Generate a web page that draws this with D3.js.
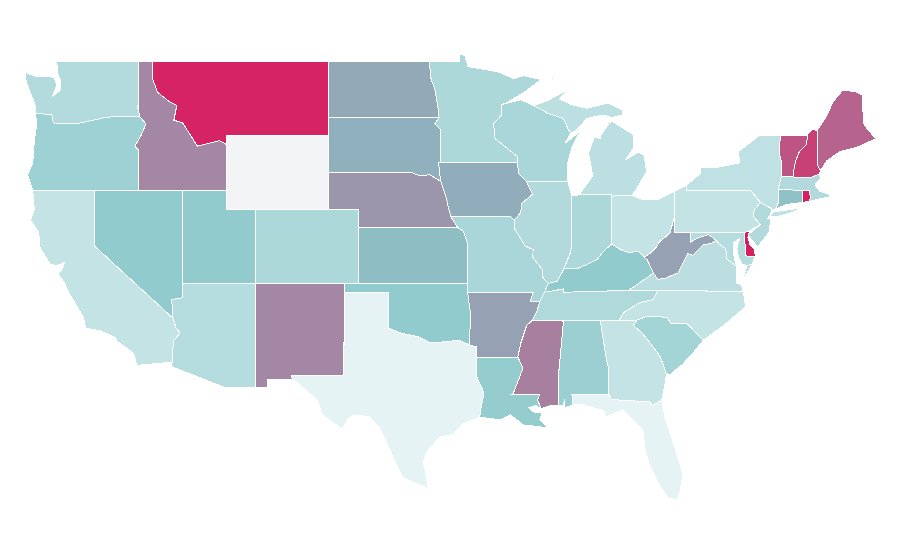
<!DOCTYPE html>
<html>
<head>
<meta charset="utf-8">
<title>US states</title>
<script src="https://d3js.org/d3.v7.min.js"></script>
<style>
    html, body { margin: 0; padding: 0; background: #fff; }
</style>
</head>
<body>
<div id="map"></div>
<script>
//----------DATA----------
var stateNames = ['WA','OR','CA','NV','ID','MT','WY','UT','AZ','NM','CO','ND','SD','NE','KS','OK','TX','MN','IA','MO','AR','LA','WI','IL','MI','IN','OH','KY','TN','MS','AL','GA','FL','SC','NC','VA','WV','MD','DE','PA','NJ','NY','CT','RI','MA','VT','NH','ME'];
// null = no data
var stateValues = [17.6,25,12,29,57,98,null,29,17,57,20,43,40,51,35,29,0,20,41.5,21,46,28,21,18,14.5,20,12,29,19,60,26,12,0,23,12,15,46,17,100,12,18,13,33,100,18,78,86,72];

var colorStops = [0, 30, 40, 60, 100];
var colorRange = ['#e6f3f5', '#8fcacc', '#8fb0bc', '#a780a0', '#d81e60'];
var noDataColor = '#f2f4f6';

// outlines in [lon, lat], each state is a list of rings
var outlines = {
WA: [[[-117.03,49],[-122.76,49],[-122.5,48.75],[-122.55,48.4],[-122.3,47.95],[-122.35,47.4],[-122.85,47.1],[-122.55,47.7],[-122.75,48.1],[-123.2,48.17],[-124,48.17],[-124.7,48.38],[-124.65,47.9],[-124.2,46.95],[-124.05,46.65],[-124,46.19],[-122.9,46.08],[-122.8,45.65],[-122.1,45.6],[-120.98,45.65],[-119.1,45.97],[-116.92,46],[-117.04,46.4]]],
OR: [[[-124,46.19],[-122.9,46.08],[-122.8,45.65],[-122.1,45.6],[-120.98,45.65],[-119.1,45.97],[-116.92,46],[-116.5,45.6],[-116.85,44.95],[-117.25,44.4],[-117.03,44.2],[-117.03,42],[-124.2,42],[-124.55,42.85],[-124.2,43.5],[-124.1,44.6],[-123.95,45.5]]],
CA: [[[-124.2,42],[-120,42],[-120,39],[-114.66,35.1],[-114.45,34.57],[-114.18,34.3],[-114.6,33.9],[-114.72,33.2],[-114.72,32.72],[-117.1,32.55],[-117.35,33.2],[-118.45,33.85],[-118.6,34.05],[-119.6,34.42],[-120.6,34.55],[-120.75,35.15],[-121.85,36.6],[-122,36.95],[-122.5,37.5],[-122.2,37.75],[-122.05,38.1],[-122.55,37.95],[-123,38],[-123.7,38.9],[-123.8,39.75],[-124.35,40.4],[-124.1,41]]],
NV: [[[-120,42],[-114.04,42],[-114.04,36.2],[-114.75,36.1],[-114.66,35.1],[-120,39]]],
ID: [[[-117.04,49],[-116.08,49],[-116.08,48.1],[-115.7,47.3],[-114.9,46.8],[-114.4,46.6],[-114.6,45.8],[-114,45.65],[-113.4,44.9],[-113,44.4],[-111.5,44.7],[-111.05,44.5],[-111.05,42],[-117.03,42],[-117.03,44.2],[-117.25,44.4],[-116.85,44.95],[-116.5,45.6],[-116.92,46],[-117.04,46.4]]],
MT: [[[-116.08,49],[-104.05,49],[-104.05,45],[-111.05,45],[-111.05,44.5],[-111.5,44.7],[-113,44.4],[-113.4,44.9],[-114,45.65],[-114.6,45.8],[-114.4,46.6],[-114.9,46.8],[-115.7,47.3],[-116.08,48.1]]],
WY: [[[-111.05,45],[-104.05,45],[-104.05,41],[-111.05,41]]],
UT: [[[-114.04,42],[-111.05,42],[-111.05,41],[-109.05,41],[-109.05,37],[-114.04,37]]],
AZ: [[[-114.04,37],[-109.05,37],[-109.05,31.33],[-111.07,31.33],[-114.81,32.5],[-114.72,32.72],[-114.72,33.2],[-114.6,33.9],[-114.18,34.3],[-114.45,34.57],[-114.66,35.1],[-114.75,36.1],[-114.04,36.2]]],
NM: [[[-109.05,37],[-103,37],[-103.04,32],[-106.62,32],[-106.53,31.78],[-108.21,31.78],[-108.21,31.33],[-109.05,31.33]]],
CO: [[[-109.05,41],[-102.05,41],[-102.05,37],[-109.05,37]]],
ND: [[[-104.05,49],[-97.23,49],[-97.1,48],[-96.85,47.5],[-96.6,46.3],[-96.56,45.94],[-104.05,45.94]]],
SD: [[[-104.05,45.94],[-96.56,45.94],[-96.85,45.6],[-96.45,45.3],[-96.45,43.5],[-96.6,43.5],[-96.45,42.5],[-97.2,42.85],[-97.9,42.8],[-98.5,43],[-104.05,43]]],
NE: [[[-104.05,43],[-98.5,43],[-97.9,42.8],[-97.2,42.85],[-96.45,42.5],[-96.1,41.7],[-95.9,41],[-95.75,40.58],[-95.3,40],[-102.05,40],[-102.05,41],[-104.05,41]]],
KS: [[[-102.05,40],[-95.3,40],[-94.9,39.8],[-94.6,39.1],[-94.62,37],[-102.05,37]]],
OK: [[[-103,37],[-94.62,37],[-94.62,36.5],[-94.43,35.4],[-94.48,33.65],[-95.2,33.9],[-96.5,33.8],[-97.2,33.8],[-98,34.1],[-99.2,34.3],[-100,34.56],[-100,36.5],[-103,36.5]]],
TX: [[[-103,36.5],[-100,36.5],[-100,34.56],[-99.2,34.3],[-98,34.1],[-97.2,33.8],[-96.5,33.8],[-95.2,33.9],[-94.48,33.65],[-94.04,33.55],[-94.04,32],[-93.5,31.05],[-93.7,30.3],[-93.8,29.75],[-94.9,29.4],[-95.6,28.8],[-96.5,28.67],[-97.4,27.86],[-97.65,27.3],[-97.5,26.9],[-97.3,25.9],[-99,26.46],[-99.45,27.16],[-99.9,27.97],[-100.6,29.16],[-101.3,29.76],[-102.3,29.87],[-102.7,29.7],[-103.15,29.1],[-104.5,29.87],[-104.85,30.68],[-106.2,31.6],[-106.53,31.78],[-106.62,32],[-103.04,32]]],
MN: [[[-97.23,49],[-95.15,49],[-95.15,49.38],[-94.8,49.3],[-94.6,48.7],[-93.5,48.55],[-92.5,48.4],[-91.5,48.05],[-90.8,48.2],[-89.6,48],[-90.8,47.3],[-92.05,46.7],[-92.3,46.65],[-92.3,46.1],[-92.85,45.6],[-92.75,44.8],[-91.25,43.85],[-91.22,43.5],[-96.6,43.5],[-96.45,43.5],[-96.45,45.3],[-96.85,45.6],[-96.56,45.94],[-96.6,46.3],[-96.85,47.5],[-97.1,48]]],
IA: [[[-91.22,43.5],[-91.15,42.9],[-90.64,42.5],[-90.2,41.8],[-90.95,41.3],[-91,40.8],[-91.45,40.4],[-91.7,40.6],[-95.75,40.58],[-95.9,41],[-96.1,41.7],[-96.45,42.5],[-96.6,43.5]]],
MO: [[[-95.75,40.58],[-91.7,40.6],[-91.45,40.4],[-91.4,39.9],[-90.7,39],[-90.15,38.8],[-90.2,38.4],[-89.5,37.7],[-89.5,37.3],[-89.13,36.98],[-89.4,36.5],[-89.7,36],[-90.37,36],[-90.15,36.5],[-94.62,36.5],[-94.62,37],[-94.6,39.1],[-94.9,39.8],[-95.3,40]]],
AR: [[[-94.62,36.5],[-90.15,36.5],[-90.37,36],[-89.7,36],[-89.9,35.5],[-90.2,35],[-90.6,34.7],[-91,33.75],[-91.2,33],[-94.04,33],[-94.04,33.55],[-94.48,33.65],[-94.43,35.4]]],
LA: [[[-94.04,33],[-91.2,33],[-90.85,32.4],[-91.5,31.05],[-91.6,31],[-89.73,31],[-89.85,30.65],[-89.6,30.2],[-90,30.38],[-90.45,30.25],[-90.1,30.02],[-89.55,29.97],[-89.7,29.6],[-89.15,29.15],[-89.9,29.25],[-90.8,29.32],[-91.7,29.87],[-92.4,29.6],[-93.8,29.75],[-93.7,30.3],[-93.5,31.05],[-94.04,32]]],
WI: [[[-92.05,46.7],[-91,46.9],[-90.15,46.6],[-89.1,46.15],[-88.1,45.9],[-87.8,45.35],[-87.6,45.1],[-88,44.55],[-86.95,45.2],[-87.5,44.4],[-87.8,43.5],[-87.8,42.5],[-90.64,42.5],[-91.15,42.9],[-91.22,43.5],[-91.25,43.85],[-92.75,44.8],[-92.85,45.6],[-92.3,46.1],[-92.3,46.65]]],
IL: [[[-90.64,42.5],[-87.8,42.5],[-87.55,41.75],[-87.53,41.7],[-87.53,39.3],[-87.6,38.7],[-88.05,37.8],[-88.5,37.1],[-89.13,36.98],[-89.5,37.3],[-89.5,37.7],[-90.2,38.4],[-90.15,38.8],[-90.7,39],[-91.4,39.9],[-91.45,40.4],[-91,40.8],[-90.95,41.3],[-90.2,41.8]]],
MI: [[[-86.82,41.76],[-84.8,41.76],[-84.8,41.7],[-83.45,41.73],[-83.15,42.05],[-82.45,43],[-82.6,43.9],[-83,44.07],[-83.9,43.65],[-83.3,44.3],[-83.3,45],[-84.8,45.75],[-85,45.65],[-85.55,45],[-85.6,44.8],[-86,44.9],[-86.4,44],[-86.1,42.8],[-87.05,41.76]],
     [[-90.15,46.6],[-89.2,46.85],[-88.5,47.16],[-87.8,47.43],[-88.4,46.95],[-87.4,46.6],[-86.5,46.45],[-85.1,46.73],[-84.1,46.35],[-84.05,46.08],[-84.8,45.95],[-85.4,46.08],[-86.5,45.9],[-87.2,45.27],[-87.6,45.1],[-87.8,45.35],[-88.1,45.9],[-89.1,46.15]],
     [[-89.2,47.85],[-88.5,48.15],[-88.9,48.1]]],
IN: [[[-87.53,41.7],[-87.05,41.76],[-86.82,41.76],[-84.8,41.76],[-84.8,41.7],[-84.82,39.1],[-85.4,38.7],[-85.8,38.27],[-86.5,38],[-87.1,37.8],[-88.05,37.8],[-87.6,38.7],[-87.53,39.3]]],
OH: [[[-84.8,41.7],[-83.45,41.73],[-82.7,41.5],[-81.7,41.5],[-80.52,41.98],[-80.52,40.64],[-80.65,40.3],[-80.85,39.7],[-81.65,39.16],[-81.75,38.95],[-82.2,38.6],[-82.6,38.4],[-83,38.7],[-83.7,38.65],[-84.2,38.8],[-84.82,39.1]]],
KY: [[[-89.4,36.5],[-88.07,36.68],[-88.07,36.5],[-83.67,36.6],[-81.97,37.54],[-82.4,38.25],[-82.6,38.4],[-83,38.7],[-83.7,38.65],[-84.2,38.8],[-84.82,39.1],[-85.4,38.7],[-85.8,38.27],[-86.5,38],[-87.1,37.8],[-88.05,37.8],[-88.5,37.1],[-89.13,36.98]]],
TN: [[[-90.2,35],[-88.2,35],[-85.6,35],[-84.32,35],[-84,35.4],[-82.9,35.95],[-82,36.1],[-81.68,36.59],[-83.67,36.6],[-88.07,36.5],[-88.07,36.68],[-89.4,36.5],[-89.7,36],[-89.9,35.5]]],
MS: [[[-90.2,35],[-88.2,35],[-88.1,34.9],[-88.45,31.9],[-88.4,30.37],[-89,30.38],[-89.6,30.2],[-89.85,30.65],[-89.73,31],[-91.6,31],[-91.5,31.05],[-90.85,32.4],[-91.2,33],[-91,33.75],[-90.6,34.7]]],
AL: [[[-88.2,35],[-85.6,35],[-85.18,32.87],[-85,32.3],[-85.05,31.55],[-85,31],[-87.6,31],[-87.45,30.9],[-87.45,30.4],[-88,30.25],[-88,30.7],[-88.15,30.35],[-88.4,30.37],[-88.45,31.9],[-88.1,34.9]]],
GA: [[[-85.6,35],[-83.1,35],[-83.35,34.7],[-82.75,34.3],[-81.95,33.5],[-81.5,33],[-81.1,32.1],[-81.15,31.7],[-81.4,30.7],[-82.05,30.36],[-82.2,30.57],[-84.85,30.7],[-85,31],[-85.05,31.55],[-85,32.3],[-85.18,32.87]]],
FL: [[[-87.6,31],[-85,31],[-84.85,30.7],[-82.2,30.57],[-82.05,30.36],[-81.4,30.7],[-81.2,29.75],[-80.4,27.8],[-79.97,26.7],[-80.15,25.75],[-80.4,25.27],[-81,25.4],[-81.5,26],[-82.3,27.27],[-82.55,28.1],[-82.7,29.05],[-84.05,30.15],[-85.2,29.76],[-85.4,30.1],[-86.9,30.45],[-87.45,30.4],[-87.45,30.9]]],
SC: [[[-83.1,35],[-82.4,35.2],[-81.05,35.15],[-80.8,34.82],[-79.67,34.8],[-78.6,33.9],[-79.3,33.2],[-80,32.6],[-80.85,32.05],[-81.1,32.1],[-81.5,33],[-81.95,33.5],[-82.75,34.3],[-83.35,34.7]]],
NC: [[[-84.32,35],[-83.1,35],[-82.4,35.2],[-81.05,35.15],[-80.8,34.82],[-79.67,34.8],[-78.6,33.9],[-77.9,34.3],[-77.2,34.7],[-76.55,35.15],[-75.7,35.7],[-75.75,35.95],[-75.87,36.55],[-81.68,36.59],[-82,36.1],[-82.9,35.95],[-84,35.4]]],
VA: [[[-83.67,36.6],[-81.68,36.59],[-75.87,36.55],[-76,36.9],[-76.35,37],[-76.3,37.6],[-76.3,37.9],[-77,38.3],[-77.05,38.85],[-77.5,39.1],[-77.72,39.32],[-78,39.15],[-78.6,39.05],[-79.3,38.5],[-79.65,38.6],[-80.3,37.55],[-81.2,37.25],[-81.68,37.2],[-81.97,37.54]],
     [[-75.95,37.15],[-75.6,37.55],[-75.25,38.03],[-75.6,37.95]]],
WV: [[[-80.52,40.64],[-80.52,39.72],[-79.48,39.72],[-79.48,39.2],[-78.9,39.45],[-78.25,39.62],[-77.72,39.32],[-78,39.15],[-78.6,39.05],[-79.3,38.5],[-79.65,38.6],[-80.3,37.55],[-81.2,37.25],[-81.68,37.2],[-81.97,37.54],[-82.4,38.25],[-82.6,38.4],[-82.2,38.6],[-81.75,38.95],[-81.65,39.16],[-80.85,39.7],[-80.65,40.3]]],
MD: [[[-79.48,39.72],[-75.79,39.72],[-75.7,38.46],[-75.05,38.45],[-75.25,38.03],[-75.6,37.95],[-75.95,38],[-76.2,38.4],[-76.3,38.9],[-76.1,39.4],[-76.5,39.2],[-76.5,38.5],[-76.4,38.1],[-76.3,37.9],[-77,38.3],[-77.05,38.85],[-77.5,39.1],[-77.72,39.32],[-78.25,39.62],[-78.9,39.45],[-79.48,39.2]]],
DE: [[[-75.79,39.72],[-75.45,39.82],[-75.55,39.45],[-75.4,39.05],[-75.1,38.8],[-75.05,38.45],[-75.7,38.46]]],
PA: [[[-80.52,41.98],[-79.76,42.27],[-79.76,42],[-75.35,42],[-74.7,41.36],[-75.1,40.95],[-75.2,40.65],[-74.72,40.15],[-75.45,39.82],[-75.79,39.72],[-80.52,39.72],[-80.52,40.64]]],
NJ: [[[-74.7,41.36],[-73.9,41],[-74.05,40.65],[-74.2,40.5],[-74,40.45],[-74.1,39.75],[-74.9,38.95],[-75.55,39.6],[-74.72,40.15],[-75.2,40.65],[-75.1,40.95]]],
NY: [[[-79.76,42.27],[-78.8,42.9],[-78.8,43.25],[-77.5,43.27],[-76.1,43.5],[-76.2,44.1],[-74.9,44.9],[-74.7,45],[-73.35,45],[-73.4,44],[-73.25,43.5],[-73.28,42.75],[-73.5,42.05],[-73.5,41.3],[-73.65,41],[-73.9,41],[-74.7,41.36],[-75.35,42],[-79.76,42]],
     [[-74.05,40.6],[-73.75,40.85],[-72.6,40.98],[-71.9,41.07],[-72.5,40.82],[-73.6,40.58]]],
CT: [[[-73.5,42.05],[-72.8,42.03],[-71.8,42.02],[-71.85,41.35],[-72.9,41.25],[-73.65,41],[-73.5,41.3]]],
RI: [[[-71.8,42.02],[-71.4,42.02],[-71.3,41.68],[-71.35,41.42],[-71.85,41.35]]],
MA: [[[-73.5,42.05],[-73.28,42.75],[-72.46,42.73],[-71.3,42.7],[-70.72,42.87],[-70.6,42.65],[-71,42.3],[-70.65,41.95],[-70.05,41.8],[-70,41.65],[-70.65,41.55],[-71.35,41.42],[-71.3,41.68],[-71.4,42.02],[-71.8,42.02],[-72.8,42.03]]],
VT: [[[-73.35,45],[-71.5,45],[-71.55,44.5],[-72.05,44.1],[-72.3,43.6],[-72.45,43],[-72.46,42.73],[-73.28,42.75],[-73.25,43.5],[-73.4,44]]],
NH: [[[-71.5,45],[-71.2,45.3],[-70.85,45.25],[-70.85,43.4],[-70.6,43.07],[-70.72,42.87],[-71.3,42.7],[-72.46,42.73],[-72.45,43],[-72.3,43.6],[-72.05,44.1],[-71.55,44.5]]],
ME: [[[-70.85,45.25],[-70.3,45.9],[-70.1,46.2],[-69.75,46.8],[-69.1,47.42],[-68.3,47.35],[-67.75,47.16],[-67.7,45.65],[-67.4,45.3],[-66.85,44.8],[-68.1,44.35],[-69.3,44.1],[-70.2,43.6],[-70.6,43.07],[-70.85,43.4]]]
};

//----------SVG----------
var svgWidth = 900;
var svgHeight = 560;

var svg = d3.select('#map')
    .append('svg')
    .attr('height', svgHeight)
    .attr('width', svgWidth)
    .style('display', 'block');

// the map is a plain stretched lon/lat grid, so two linear scales do it
var xScale = d3.scaleLinear().domain([-125, -67]).range([21, 873.6]);
var yScale = d3.scaleLinear().domain([50, 25]).range([42.5, 505]);

var colors = d3.scaleLinear()
    .domain(colorStops)
    .range(colorRange);

var lonLat = d3.geoTransform({
    point: function(x, y) {
        this.stream.point(xScale(x), yScale(y));
    }
});
var path = d3.geoPath(lonLat);

// close the rings and make geojson
var features = stateNames.map(function(name, i) {
    return {
        type: 'Feature',
        properties: { name: name, value: stateValues[i] },
        geometry: {
            type: 'MultiPolygon',
            coordinates: outlines[name].map(function(ring) {
                return [ring.concat([ring[0]])];
            })
        }
    };
});

//----------PLOT----------
svg.append('g')
    .selectAll('path')
    .data(features)
    .enter()
    .append('path')
    .attr('d', path)
    .attr('fill', d => d.properties.value === null ? noDataColor : colors(d.properties.value))
    .attr('stroke', '#fff')
    .attr('stroke-width', 1)
    .attr('shape-rendering', 'crispEdges');
</script>
</body>
</html>
